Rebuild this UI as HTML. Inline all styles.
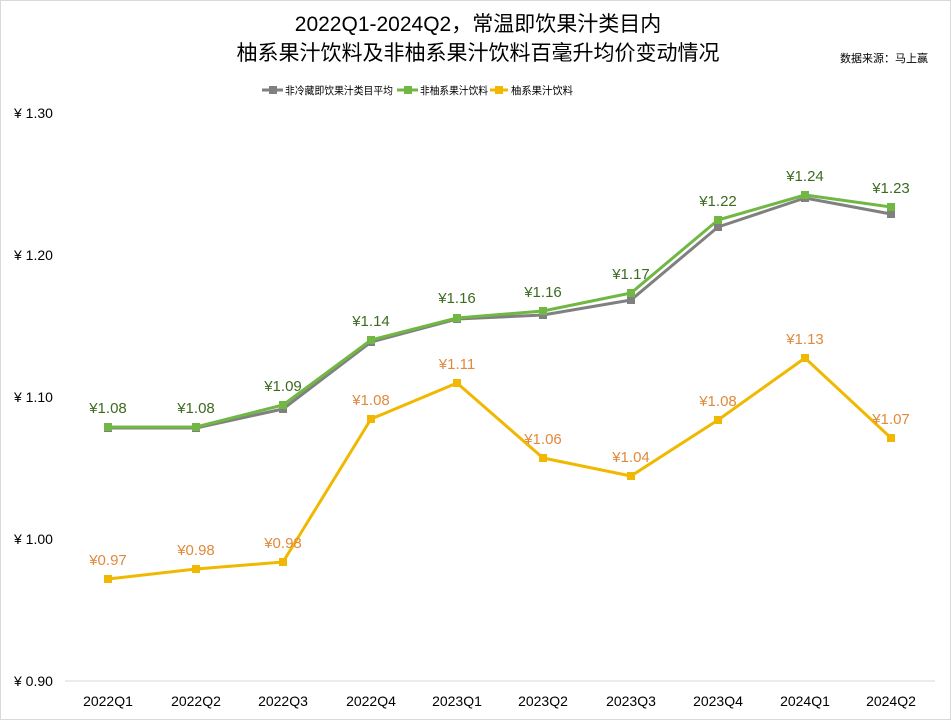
<!DOCTYPE html>
<html><head><meta charset="utf-8"><style>
body{margin:0;background:#fff;}
svg{display:block;font-family:"Liberation Sans","Noto Sans CJK SC",sans-serif;}
</style></head><body>
<svg width="951" height="720" viewBox="0 0 951 720">
<rect x="0.5" y="0.5" width="950" height="719" fill="#fff" stroke="#d9d9d9"/>
<text x="478" y="31" text-anchor="middle" font-size="21" fill="#000">2022Q1-2024Q2，常温即饮果汁类目内</text>
<text x="478" y="60" text-anchor="middle" font-size="21" fill="#000">柚系果汁饮料及非柚系果汁饮料百毫升均价变动情况</text>
<text x="928" y="62" text-anchor="end" font-size="11" fill="#000">数据来源：马上赢</text>
<g font-size="10.5" fill="#000">
<line x1="262" y1="90" x2="283" y2="90" stroke="#808080" stroke-width="3"/><rect x="269" y="86" width="8" height="8" fill="#808080"/>
<text x="285" y="94" textLength="108" lengthAdjust="spacingAndGlyphs">非冷藏即饮果汁类目平均</text>
<line x1="397" y1="90" x2="418" y2="90" stroke="#70b843" stroke-width="3"/><rect x="404" y="86" width="8" height="8" fill="#70b843"/>
<text x="420" y="94" textLength="68" lengthAdjust="spacingAndGlyphs">非柚系果汁饮料</text>
<line x1="490" y1="90" x2="508" y2="90" stroke="#f0b800" stroke-width="3"/><rect x="495" y="86" width="8" height="8" fill="#f0b800"/>
<text x="511" y="94" textLength="62" lengthAdjust="spacingAndGlyphs">柚系果汁饮料</text>
</g>
<g font-size="14" fill="#000">
<text x="14" y="118">¥ 1.30</text>
<text x="14" y="260">¥ 1.20</text>
<text x="14" y="402">¥ 1.10</text>
<text x="14" y="544">¥ 1.00</text>
<text x="14" y="686">¥ 0.90</text>
</g>
<line x1="65" y1="681" x2="935" y2="681" stroke="#d9d9d9"/>
<g font-size="14" fill="#000" text-anchor="middle">
<text x="108" y="706">2022Q1</text><text x="196" y="706">2022Q2</text><text x="283" y="706">2022Q3</text><text x="371" y="706">2022Q4</text><text x="457" y="706">2023Q1</text><text x="543" y="706">2023Q2</text><text x="631" y="706">2023Q3</text><text x="718" y="706">2023Q4</text><text x="805" y="706">2024Q1</text><text x="891" y="706">2024Q2</text>
</g>
<g stroke-width="3" fill="none" stroke-linejoin="round">
<polyline stroke="#808080" points="108,428 196,428 283,409 371,342 457,319 543,315 631,300 718,227 805,198 891,214"/>
<polyline stroke="#70b843" points="108,427 196,427 283,405 371,340 457,318 543,311 631,293 718,220 805,195 891,207"/>
<polyline stroke="#f0b800" points="108,579 196,569 283,562 371,419 457,383 543,458 631,476 718,420 805,358 891,438"/>
</g>
<g fill="#808080">
<rect x="104" y="424" width="8" height="8"/><rect x="192" y="424" width="8" height="8"/><rect x="279" y="405" width="8" height="8"/><rect x="367" y="338" width="8" height="8"/><rect x="453" y="315" width="8" height="8"/><rect x="539" y="311" width="8" height="8"/><rect x="627" y="296" width="8" height="8"/><rect x="714" y="223" width="8" height="8"/><rect x="801" y="194" width="8" height="8"/><rect x="887" y="210" width="8" height="8"/>
</g>
<g fill="#70b843">
<rect x="104" y="423" width="8" height="8"/><rect x="192" y="423" width="8" height="8"/><rect x="279" y="401" width="8" height="8"/><rect x="367" y="336" width="8" height="8"/><rect x="453" y="314" width="8" height="8"/><rect x="539" y="307" width="8" height="8"/><rect x="627" y="289" width="8" height="8"/><rect x="714" y="216" width="8" height="8"/><rect x="801" y="191" width="8" height="8"/><rect x="887" y="203" width="8" height="8"/>
</g>
<g fill="#f0b800">
<rect x="104" y="575" width="8" height="8"/><rect x="192" y="565" width="8" height="8"/><rect x="279" y="558" width="8" height="8"/><rect x="367" y="415" width="8" height="8"/><rect x="453" y="379" width="8" height="8"/><rect x="539" y="454" width="8" height="8"/><rect x="627" y="472" width="8" height="8"/><rect x="714" y="416" width="8" height="8"/><rect x="801" y="354" width="8" height="8"/><rect x="887" y="434" width="8" height="8"/>
</g>
<g font-size="15" fill="#3d6b20" text-anchor="middle">
<text x="108" y="413">¥1.08</text><text x="196" y="413">¥1.08</text><text x="283" y="391">¥1.09</text><text x="371" y="326">¥1.14</text><text x="457" y="303">¥1.16</text><text x="543" y="297">¥1.16</text><text x="631" y="279">¥1.17</text><text x="718" y="206">¥1.22</text><text x="805" y="181">¥1.24</text><text x="891" y="193">¥1.23</text>
</g>
<g font-size="15" fill="#e08a3c" text-anchor="middle">
<text x="108" y="565">¥0.97</text><text x="196" y="555">¥0.98</text><text x="283" y="548">¥0.98</text><text x="371" y="405">¥1.08</text><text x="457" y="369">¥1.11</text><text x="543" y="444">¥1.06</text><text x="631" y="462">¥1.04</text><text x="718" y="406">¥1.08</text><text x="805" y="344">¥1.13</text><text x="891" y="424">¥1.07</text>
</g>
</svg>
</body></html>
